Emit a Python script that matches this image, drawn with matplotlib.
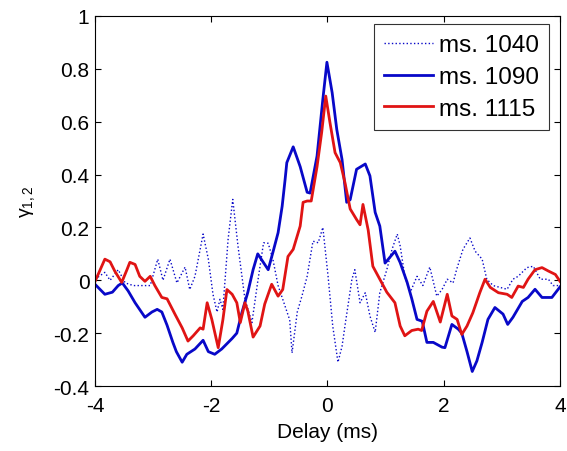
import matplotlib
matplotlib.use("Agg")
import matplotlib.pyplot as plt

plt.rcParams['font.family'] = ['Liberation Sans', 'DejaVu Sans']
plt.rcParams['mathtext.fontset'] = 'custom'
plt.rcParams['mathtext.rm'] = 'Liberation Sans'
plt.rcParams['mathtext.it'] = 'Liberation Sans'

# ms. 1040 (dotted blue)
x1040 = [-4.0, -3.83, -3.74, -3.6, -3.48, -3.34, -3.23, -3.05, -2.92, -2.83, -2.71, -2.59,
         -2.45, -2.37, -2.28, -2.14, -2.05, -1.97, -1.9, -1.85, -1.8, -1.71, -1.63, -1.54,
         -1.42, -1.3, -1.21, -1.1, -1.02, -0.94, -0.85, -0.65, -0.61, -0.52, -0.44, -0.35,
         -0.25, -0.16, -0.08, 0.01, 0.09, 0.18, 0.25, 0.3, 0.42, 0.47, 0.56, 0.65, 0.73,
         0.82, 0.9, 1.02, 1.11, 1.2, 1.25, 1.33, 1.42, 1.54, 1.64, 1.76, 1.88, 1.97, 2.06,
         2.16, 2.22, 2.33, 2.45, 2.54, 2.66, 2.74, 2.85, 2.97, 3.09, 3.19, 3.28, 3.43, 3.54,
         3.66, 3.8, 3.88, 4.0]
y1040 = [0.004, 0.03, 0.0, 0.04, -0.01, -0.02, -0.02, -0.02, 0.08, 0.0, 0.08, -0.01,
         0.05, -0.035, 0.015, 0.175, 0.08, -0.053, -0.12, -0.072, -0.11, 0.155, 0.306, 0.13,
         -0.072, -0.16, -0.02, 0.142, 0.14, 0.08, -0.02, -0.15, -0.275, -0.12, -0.06, 0.015,
         0.148, 0.142, 0.2, 0.015, -0.173, -0.31, -0.25, -0.173, 0.004, 0.04, -0.085, -0.047,
         -0.135, -0.197, -0.047, 0.04, 0.117, 0.175, 0.13, 0.015, -0.047, 0.015, -0.02, 0.05,
         -0.06, -0.035, 0.004, -0.01, 0.04, 0.117, 0.16, 0.11, 0.08, 0.004, -0.02, -0.027,
         -0.034, 0.004, 0.015, 0.048, 0.053, 0.004, 0.004, -0.02, -0.02]

# ms. 1090 (solid blue)
x1090 = [-4.0, -3.83, -3.7, -3.6, -3.53, -3.43, -3.31, -3.14, -3.02, -2.93, -2.85, -2.76,
         -2.66, -2.6, -2.5, -2.42, -2.28, -2.14, -2.05, -1.94, -1.82, -1.64, -1.56, -1.47,
         -1.37, -1.28, -1.2, -1.11, -1.02, -0.94, -0.85, -0.78, -0.73, -0.7, -0.59, -0.47,
         -0.35, -0.3, -0.18, -0.08, -0.01, 0.08, 0.16, 0.25, 0.33, 0.39, 0.5, 0.65, 0.73,
         0.82, 0.9, 0.99, 1.16, 1.25, 1.37, 1.45, 1.54, 1.63, 1.71, 1.82, 1.97, 2.02, 2.14,
         2.25, 2.31, 2.4, 2.49, 2.57, 2.66, 2.76, 2.88, 3.02, 3.1, 3.19, 3.35, 3.45, 3.57,
         3.69, 3.86, 4.0]
y1090 = [-0.015, -0.053, -0.045, -0.02, -0.01, -0.04, -0.085, -0.14, -0.12, -0.11, -0.12,
         -0.17, -0.235, -0.27, -0.31, -0.28, -0.26, -0.227, -0.27, -0.28, -0.26, -0.22,
         -0.2, -0.12, -0.045, 0.04, 0.1, 0.07, 0.04, 0.105, 0.18, 0.28, 0.38, 0.445, 0.505,
         0.43, 0.333, 0.33, 0.47, 0.685, 0.825, 0.71, 0.57, 0.457, 0.295, 0.305, 0.42, 0.44,
         0.395, 0.257, 0.205, 0.065, 0.11, 0.067, -0.008, -0.07, -0.148, -0.155, -0.235,
         -0.235, -0.253, -0.255, -0.167, -0.185, -0.2, -0.27, -0.345, -0.305, -0.235, -0.148,
         -0.103, -0.128, -0.167, -0.14, -0.08, -0.065, -0.034, -0.065, -0.065, -0.025]

# ms. 1115 (solid red)
x1115 = [-4.0, -3.91, -3.83, -3.74, -3.66, -3.54, -3.45, -3.4, -3.31, -3.23, -3.14, -3.05,
         -2.97, -2.85, -2.76, -2.62, -2.5, -2.4, -2.31, -2.19, -2.14, -2.07, -1.99, -1.88,
         -1.8, -1.73, -1.64, -1.56, -1.5, -1.42, -1.37, -1.28, -1.16, -1.08, -0.96, -0.85,
         -0.77, -0.68, -0.59, -0.47, -0.42, -0.35, -0.28, -0.18, -0.1, -0.03, 0.04, 0.13,
         0.22, 0.3, 0.39, 0.5, 0.56, 0.61, 0.7, 0.78, 0.9, 1.02, 1.16, 1.25, 1.33, 1.45,
         1.56, 1.62, 1.71, 1.82, 1.94, 2.06, 2.14, 2.23, 2.31, 2.4, 2.5, 2.62, 2.71, 2.8,
         2.94, 3.09, 3.17, 3.28, 3.37, 3.45, 3.57, 3.69, 3.8, 3.92, 4.0]
y1115 = [-0.005, 0.04, 0.08, 0.07, 0.035, -0.008, 0.04, 0.068, 0.06, 0.015, -0.004, 0.015,
         -0.02, -0.065, -0.07, -0.13, -0.18, -0.23, -0.21, -0.18, -0.185, -0.085, -0.148,
         -0.255, -0.15, -0.035, -0.053, -0.085, -0.16, -0.085, -0.117, -0.215, -0.173, -0.09,
         -0.015, -0.06, -0.035, 0.09, 0.117, 0.205, 0.295, 0.3, 0.3, 0.43, 0.56, 0.697, 0.6,
         0.483, 0.445, 0.37, 0.27, 0.23, 0.21, 0.287, 0.19, 0.053, 0.004, -0.045, -0.085,
         -0.173, -0.21, -0.19, -0.185, -0.19, -0.117, -0.08, -0.158, -0.053, -0.135, -0.148,
         -0.205, -0.173, -0.123, -0.047, 0.004, -0.027, -0.047, -0.053, -0.065, -0.022,
         -0.027, 0.004, 0.04, 0.048, 0.035, 0.022, -0.004]

xticks = [-4, -2, 0, 2, 4]
yticks = [-0.4, -0.2, 0, 0.2, 0.4, 0.6, 0.8, 1]
ytick_labels = ["-0.4", "-0.2", "0", "0.2", "0.4", "0.6", "0.8", "1"]

fig = plt.figure(figsize=(5.67, 4.52), dpi=100)
ax = fig.add_axes([0.1675, 0.1438, 0.8202, 0.8186])

blue = '#0808c8'
red = '#e01414'
ax.plot(x1040, y1040, linestyle=':', color=blue, linewidth=1.0, label='ms. 1040')
ax.plot(x1090, y1090, linestyle='-', color=blue, linewidth=2.0, label='ms. 1090')
ax.plot(x1115, y1115, linestyle='-', color=red, linewidth=2.0, label='ms. 1115')

ax.set_xlim(-4, 4)
ax.set_ylim(-0.4, 1)
ax.set_xticks(xticks)
ax.set_xticklabels([str(t) for t in xticks])
ax.set_yticks(yticks)
ax.set_yticklabels(ytick_labels)
ax.tick_params(direction='in', top=True, right=True, length=4, width=0.8,
               labelsize=15)
ax.tick_params(axis='x', pad=7.5)
ax.tick_params(axis='y', pad=4)
for s in ax.spines.values():
    s.set_linewidth(0.8)

ax.set_xlabel('Delay (ms)', fontsize=15, labelpad=5)
ax.set_ylabel(r'$\gamma_{1,2}$', fontsize=14, labelpad=12)

leg = ax.legend(loc='upper right', bbox_to_anchor=(0.977, 0.978), fontsize=17.5,
                frameon=True, fancybox=False, handlelength=2.0, handletextpad=0.25,
                borderpad=0.42, labelspacing=0.4, borderaxespad=0)
leg.get_frame().set_edgecolor('black')
leg.get_frame().set_linewidth(0.8)

fig.savefig('out.png', dpi=100)
